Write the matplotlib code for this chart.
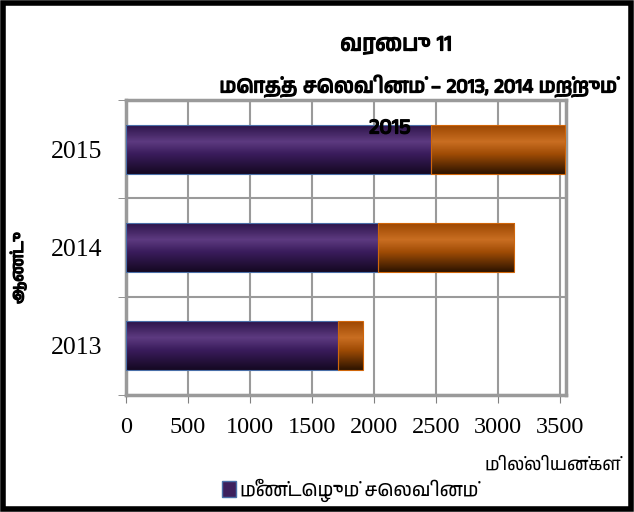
import matplotlib
matplotlib.use("Agg")
import matplotlib.pyplot as plt
import matplotlib.patheffects as pe
import numpy as np
from matplotlib import font_manager
from matplotlib.colors import LinearSegmentedColormap
from matplotlib.patches import Rectangle

years = ["2013", "2014", "2015"]
recurrent = [1710, 2030, 2460]
capital = [200, 1100, 1080]
xticks = [0, 500, 1000, 1500, 2000, 2500, 3000, 3500]

title_1 = "வரைபு 11"
title_2 = "மொத்த செலவினம் – 2013, 2014 மற்றும்"
title_3 = "2015"
ylabel = "ஆண்டு"
xlabel = "மில்லியன்கள்"
legend_label = "மீண்டெழும் செலவினம்"

# find any installed font that covers Tamil
tamil_fams = []
for f in font_manager.fontManager.ttflist:
    if "tamil" in f.name.lower() or "lohit" in f.name.lower() or "latha" in f.name.lower():
        tamil_fams.append(f.name)
tamil_fams = sorted(set(tamil_fams))
sans = tamil_fams + ["Liberation Sans", "DejaVu Sans"]
fake_bold = [pe.withStroke(linewidth=0.9, foreground="black")]

fig = plt.figure(figsize=(6.34, 5.12), dpi=100)
ax = fig.add_axes([126 / 634, 1 - 395 / 512, 440 / 634, 295 / 512])

ypos = np.arange(len(years))
h = 0.5
purple = LinearSegmentedColormap.from_list(
    "p", [(0, "#2b1348"), (0.35, "#5d3a80"), (0.6, "#3a1c5c"), (1, "#150822")])
orange = LinearSegmentedColormap.from_list(
    "o", [(0, "#9a4500"), (0.35, "#c96e22"), (0.6, "#a04c05"), (1, "#2e1400")])
grad = np.linspace(0, 1, 64).reshape(-1, 1)

for i, y in enumerate(ypos):
    segs = [(0, recurrent[i], purple, "#4a6fa8"),
            (recurrent[i], recurrent[i] + capital[i], orange, "#d0660a")]
    for x0, x1, cmap, ec in segs:
        rect = Rectangle((x0, y - h / 2), x1 - x0, h, facecolor="none",
                         edgecolor=ec, lw=0.8, zorder=4)
        ax.add_patch(rect)
        im = ax.imshow(grad, cmap=cmap, aspect="auto",
                       extent=(x0, x1, y - h / 2, y + h / 2), zorder=3)
        im.set_clip_path(rect)

ax.set_xlim(0, 3550)
ax.set_ylim(-0.5, 2.5)
ax.set_xticks(xticks)
ax.set_xticklabels([str(t) for t in xticks], fontfamily="Liberation Serif", fontsize=17.5)
ax.set_yticks(ypos)
ax.set_yticklabels(years, fontfamily="Liberation Serif", fontsize=18.5)
ax.set_yticks([-0.5, 0.5, 1.5, 2.5], minor=True)
ax.tick_params(axis="y", which="major", length=0, pad=17)
ax.tick_params(axis="y", which="minor", length=6, color="#808080")
ax.tick_params(axis="x", length=6, color="#808080", pad=10)
ax.grid(axis="x", color="#9a9a9a", lw=1.5, zorder=1)
ax.grid(axis="y", which="minor", color="#9a9a9a", lw=1.5, zorder=1)
for s in ax.spines.values():
    s.set_color("#9a9a9a")
    s.set_linewidth(2.5)

fig.text(396 / 634, 1 - 45 / 512, title_1, ha="center", va="center",
         fontsize=16, family=sans, path_effects=fake_bold)
fig.text(418 / 634, 1 - 86 / 512, title_2, ha="center", va="center",
         fontsize=14.5, family=sans, path_effects=fake_bold)
fig.text(390 / 634, 1 - 128 / 512, title_3, ha="center", va="center",
         fontsize=15.5, family=sans, path_effects=fake_bold, zorder=10)
fig.text(18 / 634, 1 - 268 / 512, ylabel, ha="center", va="center", rotation=90,
         fontsize=12, family=sans, path_effects=fake_bold)
fig.text(553 / 634, 1 - 465 / 512, xlabel, ha="center", va="center",
         fontsize=12.5, style="italic", family=sans)
fig.patches.append(Rectangle((222 / 634, 1 - 497 / 512), 14 / 634, 16 / 512,
                             transform=fig.transFigure, facecolor="#3d1f5c",
                             edgecolor="#4a6fa8", lw=1))
fig.text(240 / 634, 1 - 490 / 512, legend_label, ha="left", va="center",
         fontsize=13.5, style="italic", family=sans)

fig.patches.append(Rectangle((0.004, 0.005), 0.992, 0.99, transform=fig.transFigure,
                             facecolor="none", edgecolor="black", lw=4))
fig.savefig("out.png", dpi=100)
